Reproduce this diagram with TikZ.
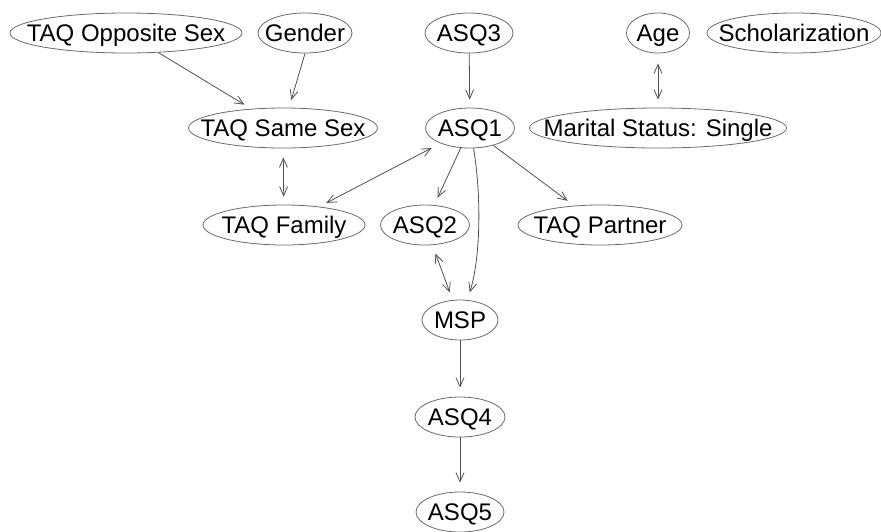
\documentclass[tikz,border=0pt]{standalone}
\usepackage{fontspec}
\setmainfont{Liberation Sans}
\usetikzlibrary{shapes.geometric,arrows.meta}
\definecolor{edgecol}{HTML}{505050}
\definecolor{bordercol}{HTML}{6A6A6A}
\newcommand\ntext[1]{\makebox[0pt]{#1}}
\tikzset{
  var/.style={ellipse, draw=bordercol, line width=0.8pt, inner sep=0pt,
    minimum height=40pt, text height=17pt, text depth=0pt,
    font=\fontsize{24}{28}\selectfont},
  conn/.style={draw=edgecol, line width=0.8pt, -{Straight Barb[length=9pt,width=8pt]}, shorten >=8pt},
  biconn/.style={draw=edgecol, line width=0.8pt, {Straight Barb[length=9pt,width=8pt]}-{Straight Barb[length=9pt,width=8pt]}, shorten >=8pt, shorten <=9pt}
}
\begin{document}
\begin{tikzpicture}[x=1pt,y=-1pt]
\useasboundingbox (0,0) rectangle (881,531);
\clip (0,0) rectangle (881,531);
\node[var, minimum width=232pt] (opp) at (126,33) {\ntext{TAQ Opposite Sex}};
\node[var, minimum width=94pt] (gender) at (305,33) {\ntext{Gender}};
\node[var, minimum width=88pt] (asq3) at (469,33) {\ntext{ASQ3}};
\node[var, minimum width=63pt] (age) at (658,33) {\ntext{Age}};
\node[var, minimum width=174pt] (schol) at (794,33) {\ntext{Scholarization}};
\node[var, minimum width=189pt] (same) at (283,128) {\ntext{TAQ Same Sex}};
\node[var, minimum width=89pt] (asq1) at (470,128) {\ntext{ASQ1}};
\node[var, minimum width=257pt] (marital) at (658,128) {\ntext{Marital Status: Single}};
\node[var, minimum width=162pt] (family) at (284,225) {\ntext{TAQ Family}};
\node[var, minimum width=89pt] (asq2) at (425,225) {\ntext{ASQ2}};
\node[var, minimum width=164pt] (partner) at (600,225) {\ntext{TAQ Partner}};
\node[var, minimum width=76pt] (msp) at (460,320) {\ntext{MSP}};
\node[var, minimum width=90pt] (asq4) at (460,417) {\ntext{ASQ4}};
\node[var, minimum width=88pt] (asq5) at (460,512) {\ntext{ASQ5}};

\draw[conn] (opp) -- (same);
\draw[conn] (gender.south) -- (same);
\draw[conn] (asq3) -- (asq1);
\draw[biconn, shorten <=10pt] (age) -- (marital);
\draw[biconn] (same) -- (family);
\draw[biconn, shorten <=10pt] (asq1) -- (family);
\draw[conn] (asq1) -- (asq2);
\draw[conn] (asq1) -- (partner);
\draw[conn] (asq1.-80) .. controls (482,200) and (480,260) .. (msp.70);
\draw[biconn] (asq2) -- (msp);
\draw[conn, shorten >=9pt] (msp) -- (asq4);
\draw[conn, shorten >=9pt] (asq4) -- (asq5);
\end{tikzpicture}
\end{document}
